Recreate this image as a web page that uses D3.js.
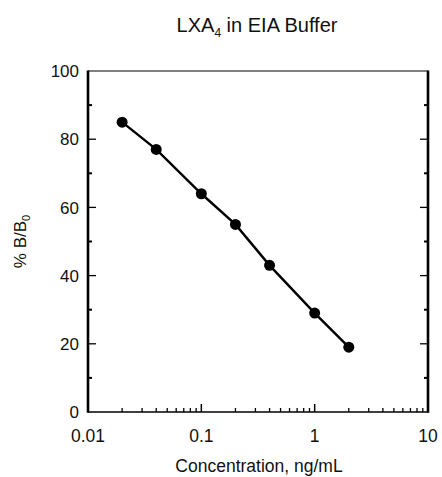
<!DOCTYPE html>
<html>
<head>
<meta charset="utf-8">
<script src="https://cdn.jsdelivr.net/npm/d3@7"></script>
<style>
  body { margin: 0; background: #fff; }
  text { font-family: "Liberation Sans", Arial, sans-serif; fill: #111; }
</style>
</head>
<body>
<div id="chart"></div>
<script>
// LXA4 standard curve, %B/B0 vs concentration
const conc = [0.02, 0.04, 0.1, 0.2, 0.4, 1, 2];
const pctB = [85, 77, 64, 55, 43, 29, 19];
const xTicks = [0.01, 0.1, 1, 10];
const xTickLabels = ['0.01', '0.1', '1', '10'];
const yTicks = [0, 20, 40, 60, 80, 100];

const width = 442, height = 477;
const m = { left: 88, right: 14, top: 71, bottom: 65 };

const svg = d3.select('#chart').append('svg')
  .attr('width', width).attr('height', height);

const x = d3.scaleLog().domain([0.01, 10]).range([m.left, width - m.right]);
const y = d3.scaleLinear().domain([0, 100]).range([height - m.bottom, m.top]);

const x0 = x.range()[0], x1 = x.range()[1], y0 = y.range()[0], y1 = y.range()[1];

// minor ticks for log axis
const xMinor = [];
for (let d = 0.01; d < 10; d *= 10) {
  for (let k = 2; k <= 9; k++) xMinor.push(d * k);
}
const yMinor = [10, 30, 50, 70, 90];

const g = svg.append('g').attr('stroke', '#000').attr('fill', 'none');

// frame: thick sides, thinner top/bottom
g.append('line').attr('x1', x0).attr('x2', x1).attr('y1', y1).attr('y2', y1).attr('stroke-width', 1.2);
g.append('line').attr('x1', x0).attr('x2', x1).attr('y1', y0).attr('y2', y0).attr('stroke-width', 1.5);
g.append('line').attr('x1', x0).attr('x2', x0).attr('y1', y1 - 0.6).attr('y2', y0 + 0.75).attr('stroke-width', 2.6);
g.append('line').attr('x1', x1).attr('x2', x1).attr('y1', y1 - 0.6).attr('y2', y0 + 0.75).attr('stroke-width', 2.6);

// y ticks, inward on both sides
g.selectAll('.yt').data(yTicks.slice(1, -1)).join('line')
  .attr('x1', x0).attr('x2', x0 + 8).attr('y1', d => y(d)).attr('y2', d => y(d)).attr('stroke-width', 1.3);
g.selectAll('.ytr').data(yTicks.slice(1, -1)).join('line')
  .attr('x1', x1).attr('x2', x1 - 8).attr('y1', d => y(d)).attr('y2', d => y(d)).attr('stroke-width', 1.3);
g.selectAll('.ym').data(yMinor).join('line')
  .attr('x1', x0).attr('x2', x0 + 4).attr('y1', d => y(d)).attr('y2', d => y(d)).attr('stroke-width', 2);
g.selectAll('.ymr').data(yMinor).join('line')
  .attr('x1', x1).attr('x2', x1 - 4).attr('y1', d => y(d)).attr('y2', d => y(d)).attr('stroke-width', 2);

// x ticks, inward from bottom
g.selectAll('.xt').data(xTicks.slice(1, -1)).join('line')
  .attr('x1', d => x(d)).attr('x2', d => x(d)).attr('y1', y0).attr('y2', y0 - 8).attr('stroke-width', 1.5);
g.selectAll('.xm').data(xMinor).join('line')
  .attr('x1', d => x(d)).attr('x2', d => x(d)).attr('y1', y0).attr('y2', y0 - 4).attr('stroke-width', 1.3);

// tick labels
svg.selectAll('.yl').data(yTicks).join('text')
  .attr('x', x0 - 9).attr('y', d => y(d)).attr('dy', '0.36em')
  .attr('text-anchor', 'end').attr('font-size', 17)
  .text(d => d);
svg.selectAll('.xl').data(xTicks).join('text')
  .attr('x', d => x(d)).attr('y', y0 + 30)
  .attr('text-anchor', 'middle').attr('font-size', 17.5)
  .text((d, i) => xTickLabels[i]);

// curve + points
const line = d3.line().x(d => x(d[0])).y(d => y(d[1]));
const pts = conc.map((c, i) => [c, pctB[i]]);
svg.append('path').datum(pts).attr('d', line)
  .attr('fill', 'none').attr('stroke', '#000').attr('stroke-width', 2.4);
svg.selectAll('circle').data(pts).join('circle')
  .attr('cx', d => x(d[0])).attr('cy', d => y(d[1])).attr('r', 5.5).attr('fill', '#000');

// titles
const title = svg.append('text').attr('x', 257).attr('y', 32)
  .attr('text-anchor', 'middle').attr('font-size', 20);
title.append('tspan').text('LXA');
title.append('tspan').attr('font-size', 12).attr('dy', 5).text('4');
title.append('tspan').attr('dy', -5).text(' in EIA Buffer');

svg.append('text').attr('x', 259).attr('y', 472)
  .attr('text-anchor', 'middle').attr('font-size', 17.5)
  .text('Concentration, ng/mL');

const yl = svg.append('text').attr('transform', 'translate(26,' + ((y0 + y1) / 2) + ') rotate(-90)')
  .attr('text-anchor', 'middle').attr('font-size', 17);
yl.append('tspan').text('% B/B');
yl.append('tspan').attr('font-size', 11).attr('dy', 4).text('0');
</script>
</body>
</html>
